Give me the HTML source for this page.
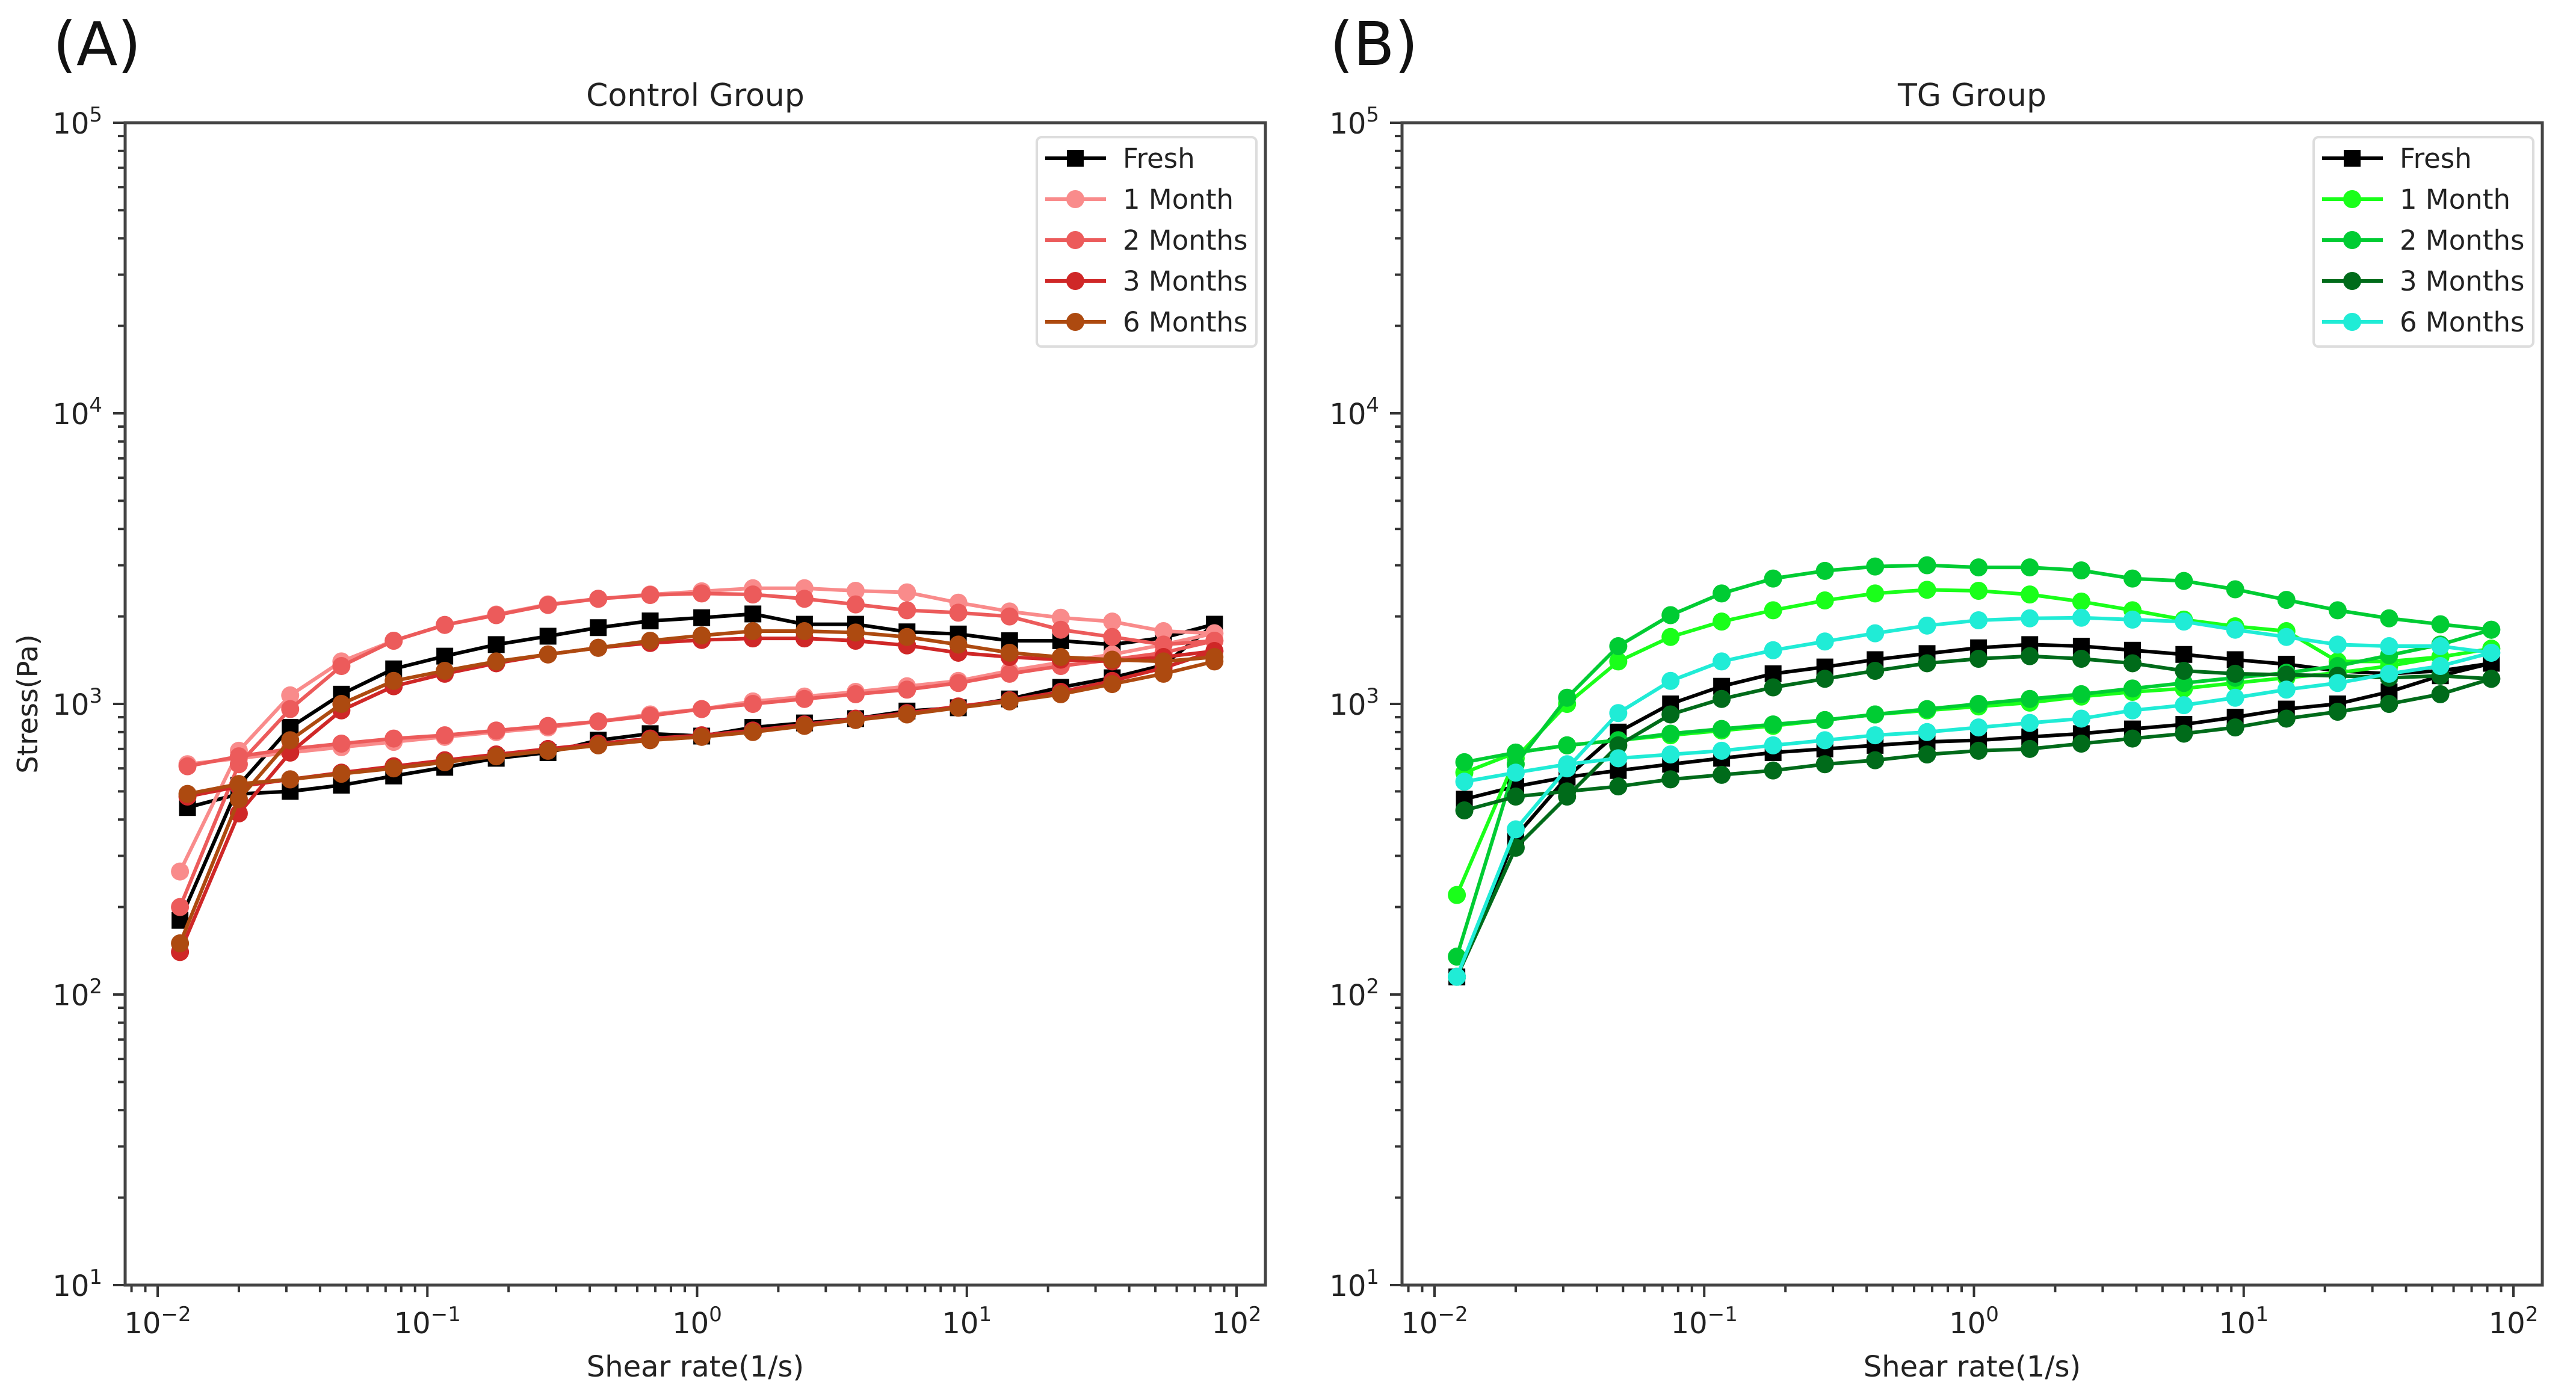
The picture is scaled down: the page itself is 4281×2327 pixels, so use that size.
<!DOCTYPE html>
<html><head><meta charset="utf-8">
<style>
html,body{margin:0;padding:0;background:#fff;}
svg{display:block;font-family:"DejaVu Sans","Liberation Sans",sans-serif;}
</style></head>
<body>
<svg id="fig" width="4281" height="2327" viewBox="0 0 4281 2327" xmlns="http://www.w3.org/2000/svg"></svg>
<script>
// ---- data ----
const shearUp = [0.0121,0.02,0.031,0.048,0.075,0.116,0.18,0.28,0.43,0.67,1.04,1.61,2.5,3.87,6.0,9.3,14.4,22.3,34.6,53.6,82.8];
const shearDown = [82.8,53.6,34.6,22.3,14.4,9.3,6.0,3.87,2.5,1.61,1.04,0.67,0.43,0.28,0.18,0.116,0.075,0.048,0.031,0.02,0.0129];
const seriesNamesA = ["Fresh","1 Month","2 Months","3 Months","6 Months"];
const seriesNamesB = ["Fresh","1 Month","2 Months","3 Months","6 Months"];
const colorsA = ["#000000","#f98b8b","#ec5b5b","#cf2727","#ad4a10"];
const colorsB = ["#000000","#1aff1a","#00cc33","#006b1a","#20ecd6"];
const ctrlUp = [
 [180,525,830,1080,1320,1460,1600,1710,1830,1930,1980,2040,1880,1880,1770,1740,1650,1650,1600,1690,1880],
 [265,690,1070,1400,1650,1870,2030,2200,2300,2380,2440,2500,2500,2450,2420,2230,2080,1980,1920,1780,1750],
 [200,620,960,1350,1650,1870,2020,2190,2300,2370,2400,2380,2300,2200,2100,2060,2000,1800,1700,1600,1650],
 [140,420,680,950,1150,1270,1380,1480,1560,1620,1660,1680,1680,1650,1590,1500,1450,1420,1400,1450,1520],
 [150,470,750,1000,1200,1300,1400,1480,1560,1650,1720,1780,1780,1760,1700,1600,1500,1450,1420,1400,1450]
];
const ctrlDown = [
 [1880,1360,1230,1140,1040,970,945,890,860,830,775,790,750,680,650,605,565,525,500,490,440],
 [1750,1600,1480,1390,1300,1200,1150,1100,1060,1020,960,920,870,830,800,770,740,710,680,650,620],
 [1650,1500,1420,1350,1270,1180,1120,1080,1040,1000,960,910,870,840,810,780,760,730,700,660,610],
 [1520,1330,1200,1100,1030,980,930,890,850,810,780,760,730,700,670,640,610,580,550,520,480],
 [1400,1270,1170,1080,1020,970,920,880,840,800,770,750,720,690,660,630,600,575,550,530,490]
];
const tgUp = [
 [115,350,560,800,1000,1150,1270,1340,1420,1490,1560,1600,1580,1530,1480,1420,1370,1300,1270,1300,1380],
 [220,650,1000,1400,1700,1920,2100,2270,2400,2470,2450,2380,2250,2100,1950,1850,1780,1400,1400,1450,1550],
 [135,620,1050,1580,2020,2400,2700,2870,2970,3000,2950,2950,2880,2700,2650,2480,2280,2100,1970,1880,1800],
 [115,320,480,720,920,1040,1140,1220,1300,1380,1430,1460,1430,1380,1300,1270,1260,1250,1230,1250,1220],
 [115,370,600,930,1200,1400,1530,1640,1750,1860,1940,1970,1980,1950,1920,1800,1700,1600,1580,1580,1500]
];
const tgDown = [
 [1380,1250,1100,1000,960,900,850,820,790,770,750,740,720,700,680,650,620,590,560,520,470],
 [1550,1450,1350,1280,1230,1180,1130,1100,1060,1010,980,950,920,880,840,810,780,750,720,680,580],
 [1800,1600,1470,1350,1280,1230,1180,1130,1080,1040,1000,960,920,880,850,820,790,750,720,680,630],
 [1220,1080,1000,940,890,830,790,760,730,700,690,670,640,620,590,570,550,520,500,480,430],
 [1500,1350,1270,1180,1120,1050,990,950,890,860,830,800,780,750,720,690,670,650,620,580,540]
];
const xTickExp = [-2,-1,0,1,2];
const yTickExp = [1,2,3,4,5];

const NS="http://www.w3.org/2000/svg";
const svg=document.getElementById('fig');
function mk(tag,attrs,parent){const e=document.createElementNS(NS,tag);for(const k in attrs)e.setAttribute(k,attrs[k]);(parent||svg).appendChild(e);return e;}

function panel(cfg){
  const L=cfg.left,R=cfg.left+1895,T=204,B=2136;
  const x0=cfg.left+54, dec=448.25;
  const X=v=>x0+(Math.log10(v)+2)*dec;
  const Y=v=>B-(Math.log10(v)-1)*483;
  const g=mk('g',{});
  
  
  const lt=mk('text',{x:cfg.left-120,y:108,'font-size':100,fill:'#111'},g);
  lt.textContent=cfg.letter;
  
  
  const ti=mk('text',{x:(L+R)/2,y:176,'font-size':52,'text-anchor':'middle',fill:'#222'},g);
  ti.textContent=cfg.title;
  
  
  const tg=mk('g',{stroke:'#333','stroke-width':4},g);
  xTickExp.forEach(e=>{
    const x=X(Math.pow(10,e));
    mk('line',{x1:x,x2:x,y1:B,y2:B+20},tg);
    if(e<2)for(let m=2;m<10;m++){const xm=X(m*Math.pow(10,e));mk('line',{x1:xm,x2:xm,y1:B,y2:B+12},tg);}
    const t=mk('text',{x:x,y:B+80,'font-size':48,'text-anchor':'middle',fill:'#222',stroke:'none'},g);
    t.innerHTML='10<tspan dy="-20" font-size="34">'+(e<0?'\u2212'+(-e):e)+'</tspan>';
    
    
  });
  for(let m=2;m<10;m++){const xm=X(m*0.001);if(xm>L)mk('line',{x1:xm,x2:xm,y1:B,y2:B+12},tg);}
  yTickExp.forEach(e=>{
    const y=Y(Math.pow(10,e));
    mk('line',{x1:L-20,x2:L,y1:y,y2:y},tg);
    if(e<5)for(let m=2;m<10;m++){const ym=Y(m*Math.pow(10,e));mk('line',{x1:L-12,x2:L,y1:ym,y2:ym},tg);}
    const t=mk('text',{x:L-38,y:y+18,'font-size':48,'text-anchor':'end',fill:'#222'},g);
    t.innerHTML='10<tspan dy="-20" font-size="34">'+e+'</tspan>';
    
    
  });
  const xl=mk('text',{x:(L+R)/2,y:2288,'font-size':48,'text-anchor':'middle',fill:'#222'},g);
  xl.textContent='Shear rate(1/s)';
  
  
  const yl=mk('text',{x:0,y:0,'font-size':46,'text-anchor':'middle',fill:'#222',transform:'translate(62,'+((T+B)/2)+') rotate(-90)'},g);
  yl.textContent='Stress(Pa)';
  
  
  cfg.names.forEach((nm,i)=>{
    const sg=mk('g',{},g);
    
    
    const pts=shearUp.map((s,j)=>[X(s),Y(cfg.up[i][j])]).concat(shearDown.map((s,j)=>[X(s),Y(cfg.down[i][j])]));
    mk('polyline',{points:pts.map(p=>p.join(',')).join(' '),fill:'none',stroke:cfg.colors[i],'stroke-width':6,'stroke-linejoin':'round'},sg);
    pts.forEach(p=>{
      if(i===0)mk('rect',{x:p[0]-14,y:p[1]-14,width:28,height:28,fill:cfg.colors[i]},sg);
      else mk('circle',{cx:p[0],cy:p[1],r:15,fill:cfg.colors[i]},sg);
    });
  });
  const fr=mk('rect',{x:L,y:T,width:R-L,height:B-T,fill:'none',stroke:'#444','stroke-width':5},g);
  
  
  const lg=mk('g',{},g);
  
  
  const lx=R-380;
  mk('rect',{x:lx,y:228,width:365,height:348,rx:8,fill:'#fff',stroke:'#ddd','stroke-width':4},lg);
  cfg.names.forEach((nm,i)=>{
    const y=263+i*68;
    const eg=mk('g',{},lg);
    
    
    mk('line',{x1:lx+14,x2:lx+115,y1:y,y2:y,stroke:cfg.colors[i],'stroke-width':6},eg);
    if(i===0)mk('rect',{x:lx+50,y:y-14,width:28,height:28,fill:cfg.colors[i]},eg);
    else mk('circle',{cx:lx+64,cy:y,r:15,fill:cfg.colors[i]},eg);
    const t=mk('text',{x:lx+143,y:y+16,'font-size':45,fill:'#222'},eg);
    t.textContent=nm;
  });
}
panel({id:'control',letter:'(A)',title:'Control Group',left:208,names:seriesNamesA,colors:colorsA,up:ctrlUp,down:ctrlDown});
panel({id:'tg',letter:'(B)',title:'TG Group',left:2330,names:seriesNamesB,colors:colorsB,up:tgUp,down:tgDown});
</script>
</body></html>
